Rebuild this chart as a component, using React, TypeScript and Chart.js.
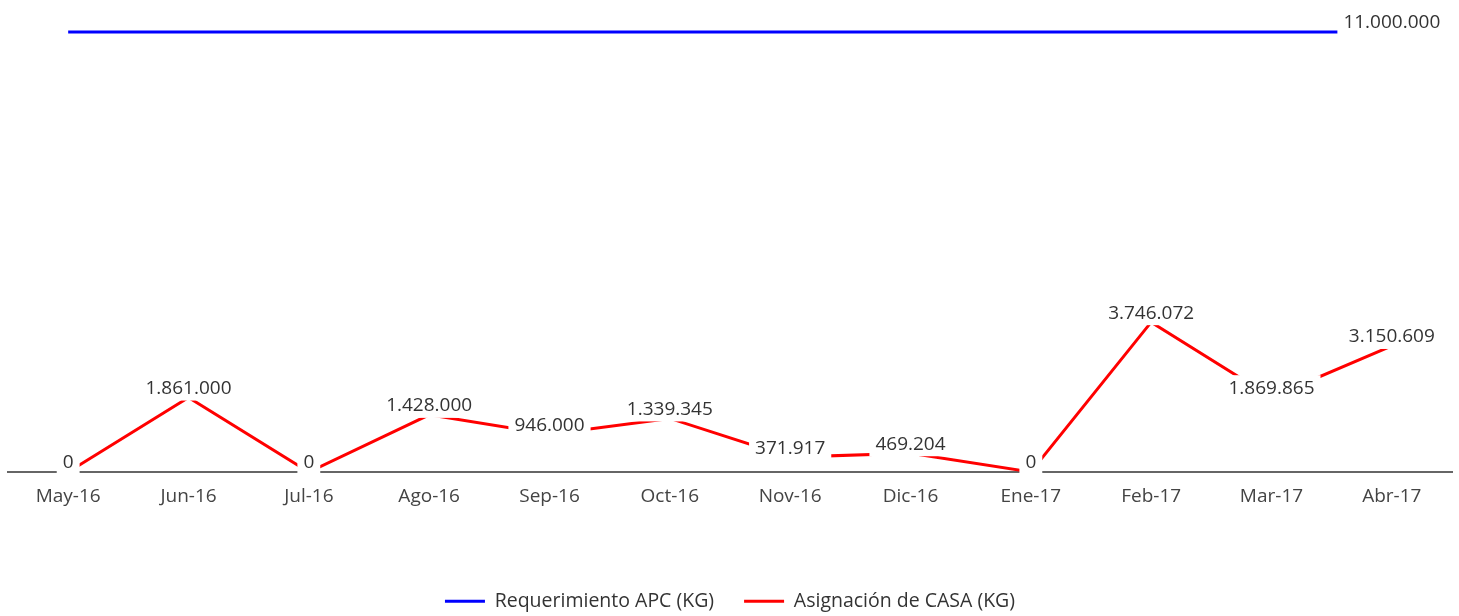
import React, { useEffect, useRef } from "react";
import { Chart, registerables } from "chart.js";

Chart.register(...registerables);

const categories = [
  "May-16", "Jun-16", "Jul-16", "Ago-16", "Sep-16", "Oct-16",
  "Nov-16", "Dic-16", "Ene-17", "Feb-17", "Mar-17", "Abr-17",
];
const requerimientoAPC = [
  11000000, 11000000, 11000000, 11000000, 11000000, 11000000,
  11000000, 11000000, 11000000, 11000000, 11000000, 11000000,
];
const asignacionCASA = [
  0, 1861000, 0, 1428000, 946000, 1339345,
  371917, 469204, 0, 3746072, 1869865, 3150609,
];
const seriesNames = ["Requerimiento APC (KG)", "Asignación de CASA (KG)"];
// which point indices carry a value label, per series
const labelledAPC = [11];
const labelledCASA = [0, 1, 2, 3, 4, 5, 6, 7, 8, 9, 10, 11];

const FONT = "'Open Sans', 'Noto Sans', sans-serif";

const fmt = (n: number) => String(n).replace(/\B(?=(\d{3})+(?!\d))/g, ".");

const labelPlugin = {
  id: "pointValueLabels",
  afterDatasetsDraw(chart: any) {
    const ctx = chart.ctx as CanvasRenderingContext2D;
    ctx.save();
    ctx.font = `19px ${FONT}`;
    ctx.textAlign = "center";
    ctx.textBaseline = "middle";
    const lists = [labelledAPC, labelledCASA];
    chart.data.datasets.forEach((ds: any, di: number) => {
      const meta = chart.getDatasetMeta(di);
      meta.data.forEach((pt: any, i: number) => {
        if (!lists[di].includes(i)) return;
        const text = fmt(ds.data[i]);
        const w = ctx.measureText(text).width;
        const x = pt.x;
        const y = pt.y - 10;
        ctx.fillStyle = "#ffffff";
        ctx.fillRect(x - w / 2 - 6, y - 12, w + 12, 25);
        ctx.fillStyle = "#333333";
        ctx.fillText(text, x, y + 1);
      });
    });
    ctx.restore();
  },
};

export default function App() {
  const ref = useRef<HTMLCanvasElement | null>(null);

  useEffect(() => {
    if (!ref.current) return;
    const chart = new Chart(ref.current, {
      type: "line",
      data: {
        labels: categories,
        datasets: [
          {
            label: seriesNames[0],
            data: requerimientoAPC,
            borderColor: "#0000ff",
            backgroundColor: "#0000ff",
            borderWidth: 3,
            pointRadius: 0,
            pointHoverRadius: 0,
            tension: 0,
            clip: false as any,
          },
          {
            label: seriesNames[1],
            data: asignacionCASA,
            borderColor: "#ff0000",
            backgroundColor: "#ff0000",
            borderWidth: 3,
            pointRadius: 0,
            pointHoverRadius: 0,
            tension: 0,
            clip: false as any,
          },
        ],
      },
      options: {
        animation: false,
        responsive: true,
        maintainAspectRatio: false,
        layout: { padding: { top: 32, left: 8, right: 7, bottom: -5 } },
        plugins: {
          tooltip: { enabled: false },
          legend: {
            position: "bottom",
            labels: {
              boxWidth: 40,
              boxHeight: 3,
              padding: 30,
              color: "#333333",
              font: { family: FONT, size: 19.5 },
              generateLabels: (chart: any) =>
                Chart.defaults.plugins.legend.labels
                  .generateLabels(chart)
                  .map((l: any) => ({ ...l, lineWidth: 0 })),
            },
          },
        },
        scales: {
          x: {
            offset: true,
            grid: { display: false, drawTicks: false },
            border: { display: true, color: "#666666", width: 2 },
            ticks: {
              color: "#444444",
              padding: 13.5,
              maxRotation: 0,
              autoSkip: false,
              font: { family: FONT, size: 19 },
            },
            afterFit: (scale: any) => {
              scale.height = 89.5;
            },
          },
          y: {
            display: false,
            min: 0,
            max: 11000000,
          },
        },
      },
      plugins: [labelPlugin],
    });
    return () => chart.destroy();
  }, []);

  return (
    <div style={{ position: "fixed", left: 0, top: 0, width: 1459, height: 616, background: "#fff" }}>
      <canvas ref={ref} />
    </div>
  );
}
